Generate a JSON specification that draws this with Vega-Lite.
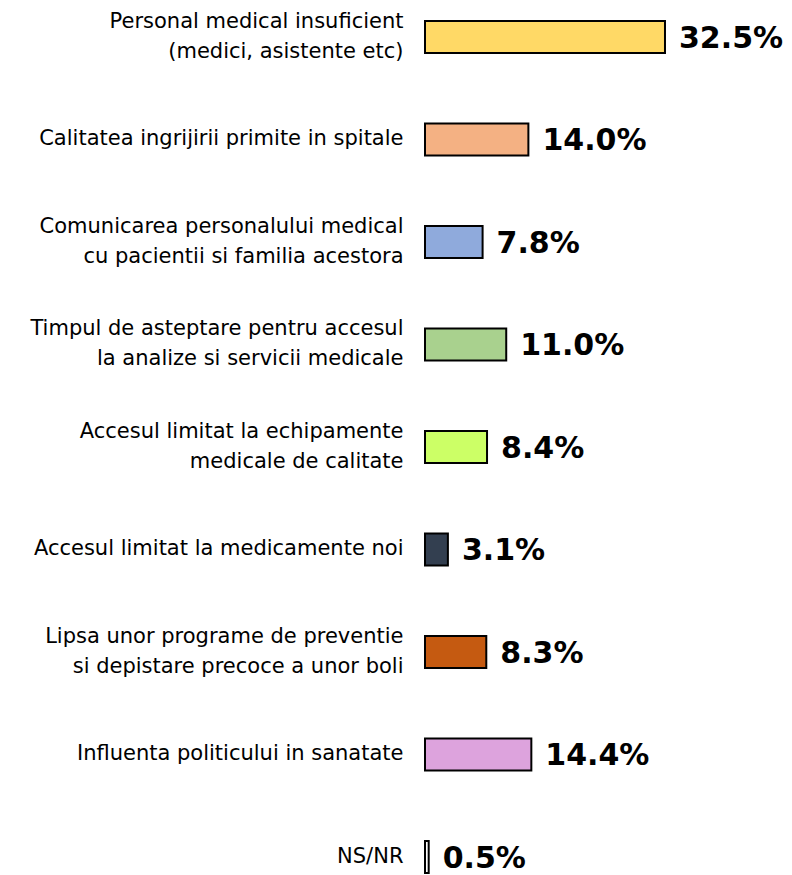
{
  "$schema": "https://vega.github.io/schema/vega-lite/v6.json",
  "autosize": "none",
  "padding": {"left": 425, "top": 0, "right": 0, "bottom": 0},
  "width": 367,
  "height": 875,
  "background": "white",
  "config": {"view": {"stroke": null}, "font": "DejaVu Sans"},
  "data": {
    "values": [
      {"label": "Personal medical insuficient|(medici, asistente etc)", "value": 32.5, "color": "#FFD966"},
      {"label": "Calitatea ingrijirii primite in spitale", "value": 14.0, "color": "#F4B183"},
      {"label": "Comunicarea personalului medical|cu pacientii si familia acestora", "value": 7.8, "color": "#8FAADC"},
      {"label": "Timpul de asteptare pentru accesul|la analize si servicii medicale", "value": 11.0, "color": "#A9D18E"},
      {"label": "Accesul limitat la echipamente|medicale de calitate", "value": 8.4, "color": "#CCFF66"},
      {"label": "Accesul limitat la medicamente noi", "value": 3.1, "color": "#333F50"},
      {"label": "Lipsa unor programe de preventie|si depistare precoce a unor boli", "value": 8.3, "color": "#C55A11"},
      {"label": "Influenta politicului in sanatate", "value": 14.4, "color": "#DDA3DD"},
      {"label": "NS/NR", "value": 0.5, "color": "#FFFFFF"}
    ]
  },
  "encoding": {
    "y": {
      "field": "label", "type": "nominal", "sort": null,
      "scale": {"paddingInner": 0.688, "paddingOuter": 0.1125, "align": 0.91},
      "axis": {
        "title": null, "domain": false, "ticks": false, "labelPadding": 22,
        "labelExpr": "split(datum.value, '|')", "labelFontSize": 21, "labelColor": "#000000",
        "labelLineHeight": 30, "labelLimit": 425, "labelFont": "DejaVu Sans",
        "labelOffset": {"condition": {"test": "indexof(datum.value, '|') >= 0", "value": -15}, "value": 0}
      }
    },
    "x": {
      "field": "value", "type": "quantitative",
      "scale": {"domain": [0, 49.7], "nice": false, "zero": true},
      "axis": null
    }
  },
  "layer": [
    {
      "mark": {"type": "bar", "stroke": "#000000", "strokeWidth": 2},
      "encoding": {"color": {"field": "color", "type": "nominal", "scale": null}}
    },
    {
      "mark": {"type": "text", "align": "left", "baseline": "middle", "dx": 14, "dy": 2, "fontSize": 30, "fontWeight": "bold", "color": "#000000", "font": "DejaVu Sans",
        "text": {"expr": "format(datum.value, '.1f') + '%'"}},
      "encoding": {}
    }
  ]
}
